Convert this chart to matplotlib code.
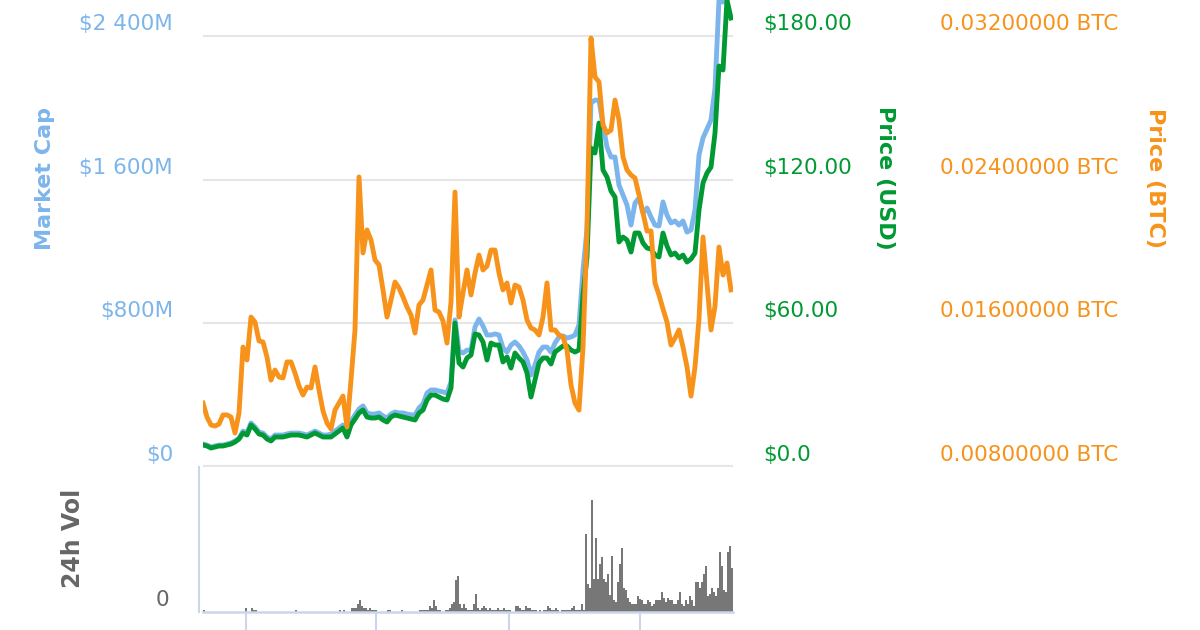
import matplotlib
matplotlib.use("Agg")
import matplotlib.pyplot as plt
from matplotlib.transforms import blended_transform_factory, offset_copy

# market cap in $M, one point every second day
market_cap = [
    128, 122, 111, 117, 122, 122, 128, 134, 145, 161,
    200, 189, 245, 223, 195, 189, 167, 156, 178, 178,
    178, 184, 189, 189, 189, 184, 178, 189, 200, 189,
    178, 178, 184, 200, 217, 234, 189, 256, 290, 323,
    340, 301, 295, 295, 301, 284, 273, 295, 306, 301,
    301, 295, 290, 290, 329, 351, 412, 429, 429, 423,
    418, 412, 473, 819, 646, 635, 651, 651, 780, 824,
    785, 735, 735, 741, 735, 663, 640, 679, 696, 674,
    640, 596, 512, 568, 640, 668, 668, 640, 690, 724,
    730, 718, 724, 735, 791, 1097, 1325, 2027, 2043, 2043,
    1904, 1782, 1726, 1726, 1570, 1514, 1459, 1347, 1470, 1498,
    1414, 1442, 1392, 1347, 1342, 1476, 1403, 1359, 1370, 1347,
    1370, 1308, 1320, 1431, 1737, 1832, 1882, 1932, 2110, 2600,
    2589, 2628, 2628,
]

price_usd = [
    9.19, 8.77, 7.93, 8.35, 8.77, 8.77, 9.19, 9.60, 10.44, 11.69,
    14.20, 13.36, 17.54, 15.87, 13.78, 13.36, 11.69, 10.86, 12.53, 12.53,
    12.53, 12.95, 13.36, 13.36, 13.36, 12.95, 12.53, 13.36, 14.20, 13.36,
    12.53, 12.53, 12.53, 13.78, 15.03, 16.29, 12.53, 17.54, 20.04, 22.55,
    23.80, 20.88, 20.46, 20.46, 20.88, 19.63, 18.79, 20.88, 21.72, 21.30,
    20.88, 20.46, 20.04, 19.63, 22.55, 23.80, 27.98, 30.07, 30.07, 29.23,
    28.40, 27.98, 32.99, 60.13, 43.43, 41.76, 45.52, 46.77, 55.54, 55.12,
    52.20, 44.68, 51.78, 50.95, 50.95, 43.85, 45.94, 41.34, 47.61, 45.52,
    43.85, 39.25, 29.23, 36.33, 43.43, 45.52, 45.52, 43.01, 48.02, 49.28,
    50.53, 50.53, 48.86, 48.02, 48.86, 71.83, 87.70, 133.21, 131.13, 143.65,
    124.03, 121.10, 115.26, 112.75, 93.96, 96.05, 94.80, 89.78, 97.72, 97.72,
    93.54, 91.45, 91.04, 88.53, 87.70, 97.72, 92.29, 88.53, 89.37, 87.28,
    88.53, 85.61, 86.86, 89.37, 107.32, 118.60, 122.77, 125.28, 139.48, 167.46,
    165.79, 195.02, 187.50,
]

price_btc = [
    0.01156, 0.01078, 0.01034, 0.01028, 0.01039, 0.01090, 0.01090, 0.01078, 0.00989, 0.01101,
    0.01468, 0.01396, 0.01635, 0.01607, 0.01502, 0.01496, 0.01412, 0.01284, 0.01340, 0.01301,
    0.01296, 0.01385, 0.01385, 0.01323, 0.01251, 0.01201, 0.01245, 0.01240, 0.01357, 0.01229,
    0.01112, 0.01045, 0.01012, 0.01117, 0.01156, 0.01195, 0.01023, 0.01284, 0.01563, 0.02415,
    0.01992, 0.02120, 0.02064, 0.01953, 0.01925, 0.01786, 0.01635, 0.01730, 0.01830, 0.01797,
    0.01747, 0.01691, 0.01646, 0.01546, 0.01702, 0.01730, 0.01813, 0.01897, 0.01674, 0.01663,
    0.01613, 0.01490, 0.01719, 0.02331, 0.01635, 0.01769, 0.01897, 0.01758, 0.01880, 0.01980,
    0.01897, 0.01919, 0.02008, 0.02008, 0.01880, 0.01786, 0.01825, 0.01713, 0.01813, 0.01802,
    0.01730, 0.01619, 0.01574, 0.01563, 0.01535, 0.01635, 0.01825, 0.01563, 0.01563, 0.01535,
    0.01524, 0.01451, 0.01257, 0.01156, 0.01117, 0.01468, 0.02120, 0.03189, 0.02972, 0.02944,
    0.02704, 0.02660, 0.02676, 0.02843, 0.02732, 0.02526, 0.02454, 0.02426, 0.02409, 0.02315,
    0.02214, 0.02114, 0.02114, 0.01825, 0.01758, 0.01680, 0.01607, 0.01479, 0.01518, 0.01563,
    0.01468, 0.01357, 0.01195, 0.01357, 0.01624, 0.02081, 0.01825, 0.01563, 0.01696, 0.02025,
    0.01869, 0.01936, 0.01786,
]

# 24h volume, one bar per day (arbitrary units)
volume = [
    2, 0, 0, 0, 0, 0, 0, 0, 0, 0,
    0, 0, 0, 0, 0, 0, 0, 0, 0, 0,
    0, 4, 0, 0, 4, 2, 2, 0, 0, 0,
    0, 0, 0, 0, 0, 0, 0, 0, 0, 0,
    0, 0, 0, 0, 0, 0, 2, 0, 0, 0,
    0, 0, 0, 0, 0, 0, 0, 0, 0, 0,
    0, 0, 0, 0, 0, 0, 0, 0, 2, 0,
    2, 0, 0, 0, 4, 4, 4, 8, 12, 6,
    4, 4, 2, 4, 2, 2, 2, 0, 0, 0,
    0, 0, 2, 2, 0, 0, 0, 0, 0, 2,
    0, 0, 0, 0, 0, 0, 0, 0, 2, 2,
    2, 2, 2, 6, 4, 12, 6, 2, 2, 0,
    0, 2, 2, 4, 8, 10, 32, 36, 8, 4,
    8, 4, 2, 2, 2, 8, 18, 4, 2, 4,
    6, 4, 2, 4, 2, 2, 2, 4, 2, 2,
    4, 2, 2, 2, 0, 0, 6, 6, 4, 2,
    2, 6, 4, 4, 2, 2, 2, 0, 2, 0,
    2, 2, 6, 4, 2, 2, 4, 2, 0, 2,
    2, 2, 2, 2, 4, 6, 2, 2, 2, 8,
    2, 78, 28, 24, 112, 33, 74, 33, 48, 55,
    33, 30, 38, 17, 56, 12, 10, 30, 48, 64,
    24, 22, 14, 10, 8, 8, 8, 16, 13, 12,
    8, 8, 12, 10, 6, 8, 12, 12, 12, 20,
    14, 10, 14, 12, 12, 8, 8, 12, 20, 8,
    6, 12, 8, 16, 12, 6, 30, 30, 24, 30,
    38, 46, 16, 18, 24, 20, 16, 24, 60, 46,
    22, 20, 60, 66, 44,
]

mc_ticks = [0, 800, 1600, 2400]
mc_labels = ["$0", "$800M", "$1 600M", "$2 400M"]
usd_ticks = [0, 60, 120, 180]
usd_labels = ["$0.0", "$60.00", "$120.00", "$180.00"]
btc_ticks = [0.008, 0.016, 0.024, 0.032]
btc_labels = ["0.00800000 BTC", "0.01600000 BTC", "0.02400000 BTC", "0.03200000 BTC"]
date_ticks = [21.5, 86.5, 153, 218.5]

BLUE = "#7cb5ec"
GREEN = "#009933"
ORANGE = "#f7931a"
GRAY = "#666666"
GRID = "#e6e6e6"
AXIS = "#ccd6eb"

plt.rcParams["font.family"] = ["DejaVu Sans"]

W, H = 1200, 630
fig = plt.figure(figsize=(12, 6.3), dpi=100)


def fx(px):
    return px / W


def fy(py):
    return 1 - py / H


left, right = 203, 733
base, top_grid, vol_base = 467, 36, 612
stretch = base / (base - top_grid)  # plot area goes up to the top edge

ax = fig.add_axes([fx(left), fy(base), fx(right - left), base / H])
ax_usd = ax.twinx()
ax_btc = ax.twinx()

days_line = [2 * k for k in range(len(market_cap))]
ax.plot(days_line, market_cap, color=BLUE, lw=3.5, solid_joinstyle="round")
ax_usd.plot(days_line, price_usd, color=GREEN, lw=3.5, solid_joinstyle="round")
ax_btc.plot(days_line, price_btc, color=ORANGE, lw=3.5, solid_joinstyle="round")

ax.set_xlim(0, len(volume))
ax.set_ylim(0, 2400 * stretch)
ax_usd.set_ylim(0, 180 * stretch)
ax_btc.set_ylim(0.008, 0.008 + 0.024 * stretch)

for v in mc_ticks[1:]:
    ax.axhline(v, color=GRID, lw=1.5, zorder=0)
ax.axhline(0, color=GRID, lw=3, zorder=0)

for a in (ax, ax_usd, ax_btc):
    a.set_axis_off()


def tick_text(axis, value, text, xpix, ha, color):
    trans = blended_transform_factory(fig.transFigure, axis.transData)
    trans = offset_copy(trans, fig=fig, x=0, y=12, units="dots")
    axis.text(fx(xpix), value, text, transform=trans, ha=ha, va="center",
              color=color, fontsize=15.5)


for v, t in zip(mc_ticks, mc_labels):
    tick_text(ax, v, t, 173, "right", BLUE)
for v, t in zip(usd_ticks, usd_labels):
    tick_text(ax_usd, v, t, 763, "left", GREEN)
for v, t in zip(btc_ticks, btc_labels):
    tick_text(ax_btc, v, t, 940, "left", ORANGE)

fig.text(fx(45), fy(178), "Market Cap", rotation=90, ha="center", va="center",
         color=BLUE, fontsize=16, fontweight="bold")
fig.text(fx(885), fy(178), "Price (USD)", rotation=270, ha="center", va="center",
         color=GREEN, fontsize=16, fontweight="bold")
fig.text(fx(1155), fy(178), "Price (BTC)", rotation=270, ha="center", va="center",
         color=ORANGE, fontsize=16, fontweight="bold")

# volume panel
ax_vol = fig.add_axes([fx(left), fy(vol_base), fx(right - left), (vol_base - base) / H])
ax_vol.bar(range(len(volume)), volume, width=1.0, align="edge", color="#777777", linewidth=0)
ax_vol.set_xlim(0, len(volume))
ax_vol.set_ylim(0, vol_base - base)
ax_vol.patch.set_visible(False)
for s in ("top", "right"):
    ax_vol.spines[s].set_visible(False)
ax_vol.spines["left"].set_position(("outward", 3))
ax_vol.spines["left"].set_color(AXIS)
ax_vol.spines["left"].set_linewidth(1.5)
ax_vol.spines["bottom"].set_color(AXIS)
ax_vol.spines["bottom"].set_linewidth(1.8)
ax_vol.set_yticks([])
ax_vol.set_xticks(date_ticks)
ax_vol.tick_params(axis="x", length=13, width=1.5, color=AXIS, labelbottom=False)

fig.text(fx(162), fy(600), "0", ha="center", va="center", color=GRAY, fontsize=15.5)
fig.text(fx(73), fy(538), "24h Vol", rotation=90, ha="center", va="center",
         color=GRAY, fontsize=17, fontweight="bold")

fig.savefig("out.png", dpi=100)
